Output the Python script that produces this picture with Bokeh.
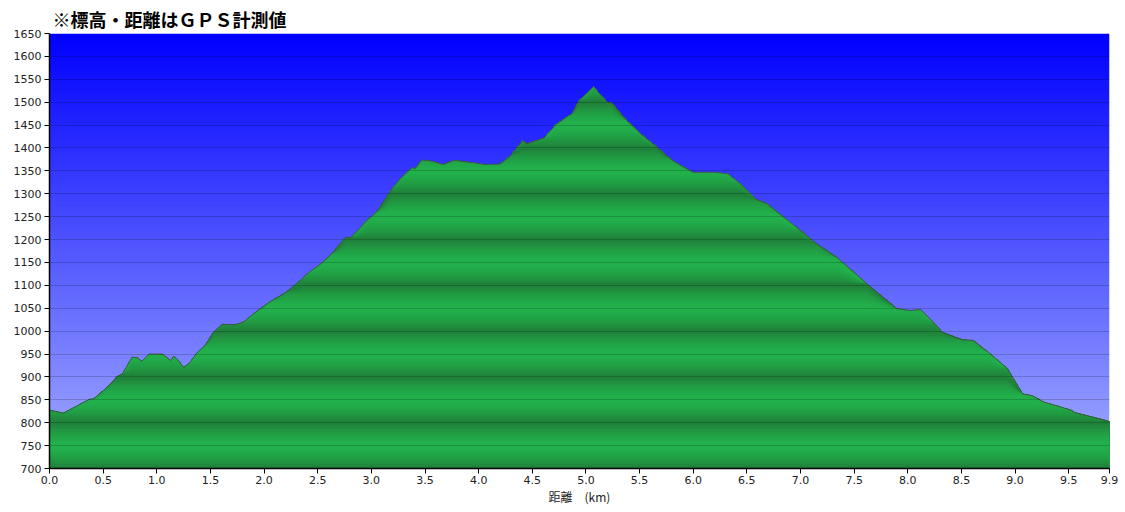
import numpy as np
from bokeh.plotting import figure
from bokeh.models import Range1d, FixedTicker, NumeralTickFormatter
from bokeh.embed import file_html
from bokeh.resources import INLINE

# ---- data ----
dist_km = [0.00, 0.01, 0.13, 0.20, 0.38, 0.41, 0.54, 0.58, 0.63, 0.68,
           0.77, 0.82, 0.86, 0.93, 1.05, 1.13, 1.16, 1.19, 1.25, 1.30,
           1.38, 1.45, 1.53, 1.61, 1.73, 1.81, 1.92, 2.06, 2.20, 2.34,
           2.40, 2.53, 2.63, 2.76, 2.81, 2.96, 3.05, 3.18, 3.27, 3.38,
           3.41, 3.47, 3.57, 3.67, 3.77, 3.95, 4.06, 4.20, 4.30, 4.41,
           4.45, 4.61, 4.72, 4.84, 4.87, 4.93, 5.07, 5.14, 5.20, 5.24,
           5.38, 5.51, 5.66, 5.79, 5.88, 6.00, 6.19, 6.32, 6.44, 6.58,
           6.69, 6.81, 7.00, 7.15, 7.34, 7.62, 7.90, 8.02, 8.12, 8.24,
           8.32, 8.51, 8.61, 8.75, 8.93, 9.07, 9.16, 9.27, 9.53, 9.55,
           9.61, 9.88]
elev_m = [827, 827, 821, 830, 852, 852, 878, 888, 901, 907,
          943, 942, 934, 950, 950, 936, 945, 939, 921, 929,
          954, 969, 998, 1015, 1014, 1020, 1041, 1065, 1084, 1111,
          1125, 1147, 1169, 1205, 1204, 1242, 1260, 1307, 1333, 1357,
          1355, 1374, 1371, 1364, 1373, 1368, 1364, 1365, 1384, 1416,
          1409, 1422, 1451, 1471, 1475, 1502, 1534, 1515, 1500, 1499,
          1460, 1431, 1402, 1376, 1362, 1347, 1347, 1344, 1322, 1289,
          1278, 1255, 1220, 1191, 1161, 1103, 1049, 1045, 1047, 1019,
          998, 981, 980, 954, 918, 863, 859, 845, 827, 823,
          819, 803]
x_ticks = [0.0, 0.5, 1.0, 1.5, 2.0, 2.5, 3.0, 3.5, 4.0, 4.5, 5.0,
           5.5, 6.0, 6.5, 7.0, 7.5, 8.0, 8.5, 9.0, 9.5, 9.88]
y_ticks = [700, 750, 800, 850, 900, 950, 1000, 1050, 1100, 1150, 1200,
           1250, 1300, 1350, 1400, 1450, 1500, 1550, 1600, 1650]
title_text = "※標高・距離はＧＰＳ計測値"
x_label = "距離　(km)"

X_MAX = x_ticks[-1]
Y_MIN, Y_MAX = y_ticks[0], y_ticks[-1]

p = figure(width=1123, height=508, output_backend="svg", toolbar_location=None,
           x_range=Range1d(0, X_MAX), y_range=Range1d(Y_MIN, Y_MAX),
           min_border_left=49, min_border_right=14, min_border_top=33,
           min_border_bottom=40)
p.outline_line_color = None
p.border_fill_color = "white"
p.background_fill_color = "white"

# ---- title ----
p.title.text = title_text
p.title.text_font = "Noto Sans CJK JP"
p.title.text_font_style = "bold"
p.title.text_font_size = "18px"
p.title.text_color = "black"
p.title.align = "left"
p.title.offset = 3
p.title.standoff = 3

# ---- sky gradient background ----
N = 256
img = np.empty((N, 1), dtype=np.uint32)
view = img.view(dtype=np.uint8).reshape((N, 1, 4))
t = np.linspace(1.0, 0.0, N)  # row 0 = bottom
view[:, 0, 0] = (165 * t).astype(np.uint8)
view[:, 0, 1] = (175 * t).astype(np.uint8)
view[:, 0, 2] = 255
view[:, 0, 3] = 255
p.image_rgba(image=[img], x=0, y=Y_MIN, dw=X_MAX, dh=Y_MAX - Y_MIN)

# ---- banded green terrain ----
d = np.array(dist_km)
e = np.array(elev_m, dtype=float)
bright = np.array([34, 176, 76])
dark = np.array([31, 126, 56])
step = 5
tops = np.arange(Y_MAX, Y_MIN, -step)
for hi in tops:
    c = hi - step / 2.0
    tt = (abs((c % 100) - 50) / 50.0) ** 1.6
    col = bright * (1 - tt) + dark * tt
    colhex = "#%02x%02x%02x" % tuple(int(round(v)) for v in col)
    p.varea(x=d, y1=np.full_like(e, Y_MIN), y2=np.minimum(e, hi),
            fill_color=colhex, fill_alpha=1.0)

p.line(d, e, line_color="#454545", line_width=1, line_alpha=0.8)

# ---- grid ----
p.xgrid.visible = False
p.ygrid.ticker = FixedTicker(ticks=y_ticks)
p.ygrid.grid_line_color = "black"
p.ygrid.grid_line_alpha = 0.18
p.ygrid.level = "guide"

# ---- axes ----
p.xaxis.ticker = FixedTicker(ticks=x_ticks)
p.xaxis.formatter = NumeralTickFormatter(format="0.0")
p.yaxis.ticker = FixedTicker(ticks=y_ticks)
for ax in p.axis:
    ax.axis_line_color = "black"
    ax.axis_line_width = 1.5
    ax.major_tick_line_color = "black"
    ax.major_tick_out = 5
    ax.major_tick_in = 0
    ax.minor_tick_line_color = None
    ax.major_label_text_font = "DejaVu Sans"
    ax.major_label_text_font_size = "11px"
    ax.major_label_text_color = "#222222"
    ax.major_label_standoff = 3
p.xaxis.major_label_standoff = 2
p.xaxis.axis_label = x_label
p.xaxis.axis_label_text_font = "Noto Sans CJK JP"
p.xaxis.axis_label_text_font_size = "12px"
p.xaxis.axis_label_text_font_style = "normal"
p.xaxis.axis_label_text_color = "#222222"
p.xaxis.axis_label_standoff = 1

open("out.html", "w").write(file_html(p, INLINE))
